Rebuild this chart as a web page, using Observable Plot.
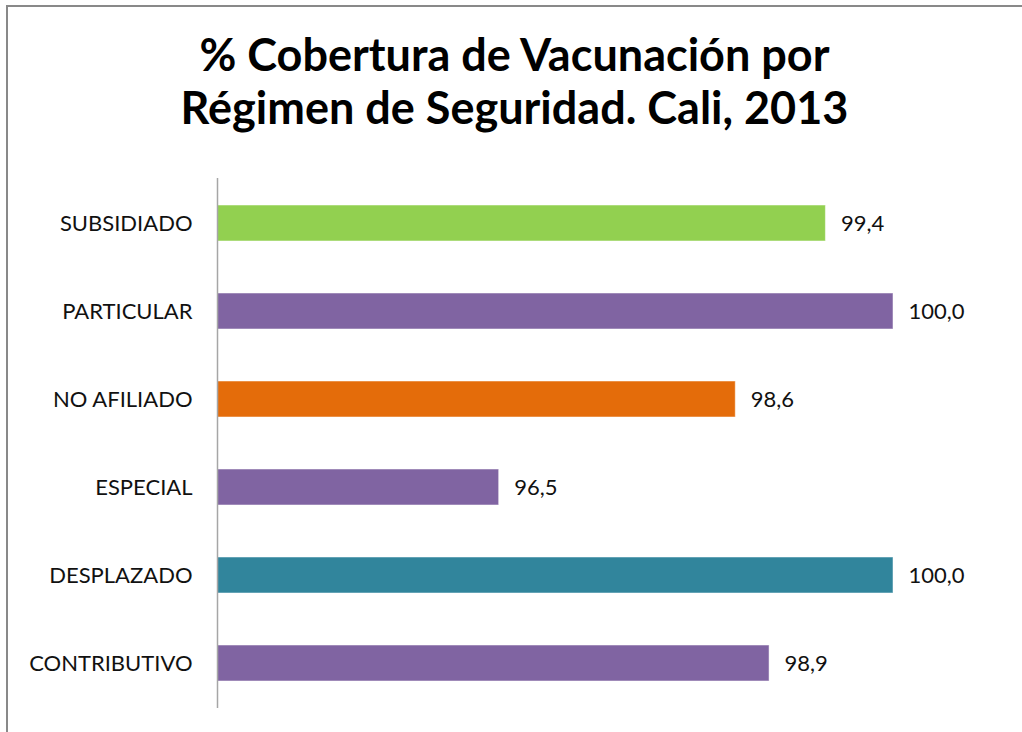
<!DOCTYPE html>
<html>
<head>
<meta charset="utf-8">
<script src="https://cdn.jsdelivr.net/npm/d3@7"></script>
<script src="https://cdn.jsdelivr.net/npm/@observablehq/plot@0.6"></script>
<style>
  html, body { margin: 0; padding: 0; background: #fff; width: 1022px; height: 732px; overflow: hidden; }
  #frame { position: absolute; left: 6px; top: 5px; width: 1030px; height: 740px; border-left: 2px solid #898989; border-top: 2px solid #898989; box-sizing: border-box; }
  #title { position: absolute; left: 7px; width: 1015px; top: 28px; text-align: center; font-family: Lato, "Open Sans", sans-serif; font-weight: 700; font-size: 45px; line-height: 53px; color: #000; }
  #chart { position: absolute; left: 0; top: 150px; }
</style>
</head>
<body>
<div id="frame"></div>
<div id="title">% Cobertura de Vacunación por<br>Régimen de Seguridad. Cali, 2013</div>
<div id="chart"></div>
<script>
const categories = ["SUBSIDIADO", "PARTICULAR", "NO AFILIADO", "ESPECIAL", "DESPLAZADO", "CONTRIBUTIVO"];
const values = [99.4, 100.0, 98.6, 96.5, 100.0, 98.9];
const colors = ["#92D050", "#8064A2", "#E46C0A", "#8064A2", "#31859C", "#8064A2"];
const xDomain = [94, 100];

const data = categories.map((c, i) => ({category: c, value: values[i], color: colors[i]}));

const chart = Plot.plot({
  width: 1022,
  height: 580,
  marginLeft: 217,
  marginRight: 129,
  marginTop: 28,
  marginBottom: 22,
  style: {fontFamily: "Lato, 'Open Sans', sans-serif", background: "transparent"},
  x: {domain: xDomain, axis: null},
  y: {domain: categories, paddingInner: 0.59, paddingOuter: 0.295, label: null},
  marks: [
    Plot.barX(data, {x1: xDomain[0], x2: "value", y: "category", fill: "color", stroke: "#ffffff", strokeOpacity: 0.5, strokeWidth: 1}),
    Plot.ruleX([xDomain[0]], {stroke: "#a6a6a6", strokeWidth: 1.5}),
    Plot.text(data, {x: "value", y: "category", text: d => d.value.toFixed(1).replace(".", ","), textAnchor: "start", dx: 15, fontSize: 22, fill: "#111"}),
    Plot.axisY({tickSize: 0, tickPadding: 25, fontSize: 22, label: null, color: "#111"})
  ]
});
document.getElementById("chart").appendChild(chart);
</script>
</body>
</html>
